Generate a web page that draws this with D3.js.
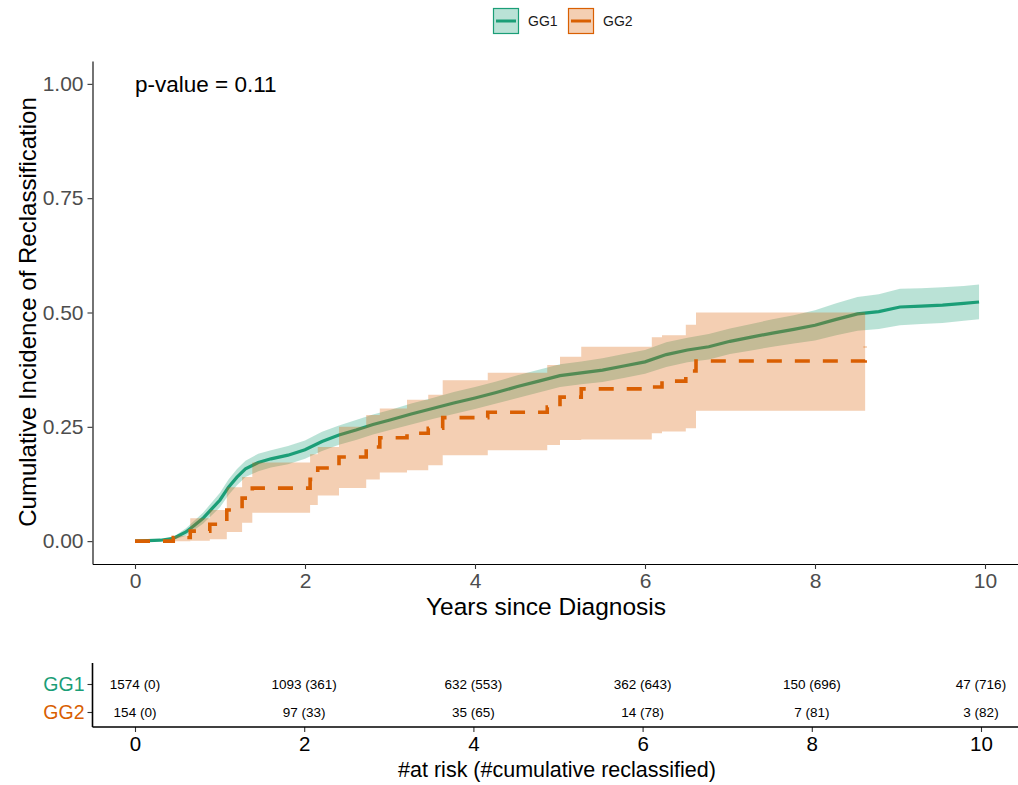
<!DOCTYPE html>
<html>
<head>
<meta charset="utf-8">
<script src="https://cdn.jsdelivr.net/npm/d3@7"></script>
<style>
  body { margin: 0; background: #fff; }
  text { font-family: "Liberation Sans", Arial, sans-serif; }
</style>
</head>
<body>
<div id="vis"></div>
<script>
// ---- data ----
var groups = ["GG1", "GG2"];
var colours = ["#1B9E77", "#D95F02"];

var gg1Time = [0, 0.3, 0.45, 0.6, 0.7, 0.8, 0.9, 1.0, 1.1, 1.2, 1.3, 1.45, 1.6, 1.8, 2.0, 2.2, 2.4, 2.6, 2.8, 3.0, 3.25, 3.5, 3.75, 4.0, 4.25, 4.5, 4.75, 5.0, 5.25, 5.5, 5.75, 6.0, 6.25, 6.5, 6.75, 7.0, 7.25, 7.5, 7.75, 8.0, 8.25, 8.5, 8.75, 9.0, 9.25, 9.5, 9.75, 9.93];
var gg1Est = [0, 0.002, 0.006, 0.02, 0.035, 0.05, 0.07, 0.09, 0.118, 0.14, 0.158, 0.172, 0.18, 0.188, 0.2, 0.218, 0.232, 0.243, 0.255, 0.265, 0.278, 0.29, 0.302, 0.313, 0.325, 0.338, 0.35, 0.362, 0.368, 0.374, 0.383, 0.392, 0.408, 0.418, 0.425, 0.437, 0.446, 0.455, 0.463, 0.472, 0.485, 0.497, 0.502, 0.512, 0.514, 0.516, 0.52, 0.523];
var gg1Lower = [0, 0.001, 0.003, 0.012, 0.025, 0.038, 0.056, 0.074, 0.101, 0.122, 0.14, 0.153, 0.161, 0.168, 0.18, 0.197, 0.211, 0.221, 0.233, 0.243, 0.255, 0.267, 0.278, 0.289, 0.301, 0.313, 0.325, 0.337, 0.343, 0.348, 0.357, 0.366, 0.381, 0.391, 0.397, 0.409, 0.417, 0.425, 0.432, 0.439, 0.45, 0.46, 0.464, 0.472, 0.475, 0.477, 0.482, 0.485];
var gg1Upper = [0, 0.003, 0.009, 0.028, 0.045, 0.062, 0.084, 0.106, 0.135, 0.158, 0.176, 0.191, 0.199, 0.208, 0.22, 0.239, 0.253, 0.265, 0.277, 0.287, 0.301, 0.313, 0.326, 0.337, 0.349, 0.363, 0.375, 0.387, 0.393, 0.4, 0.409, 0.418, 0.435, 0.445, 0.453, 0.465, 0.475, 0.485, 0.494, 0.505, 0.52, 0.534, 0.54, 0.552, 0.553, 0.555, 0.558, 0.561];

var gg2Time = [0, 0.45, 0.65, 0.88, 1.08, 1.26, 1.38, 2.06, 2.15, 2.4, 2.72, 2.88, 3.2, 3.45, 3.62, 4.15, 4.85, 5.0, 5.25, 6.08, 6.2, 6.48, 6.6, 8.59];
var gg2Est = [0, 0.008, 0.022, 0.037, 0.068, 0.094, 0.116, 0.135, 0.16, 0.184, 0.206, 0.226, 0.236, 0.247, 0.27, 0.282, 0.293, 0.315, 0.333, 0.337, 0.35, 0.372, 0.394, 0.425];
var gg2Lower = [0, 0, 0.001, 0.004, 0.02, 0.04, 0.062, 0.079, 0.1, 0.116, 0.135, 0.15, 0.155, 0.166, 0.188, 0.199, 0.21, 0.221, 0.222, 0.236, 0.24, 0.247, 0.285, 0.285];
var gg2Upper = [0, 0.012, 0.05, 0.068, 0.118, 0.14, 0.172, 0.19, 0.206, 0.25, 0.276, 0.29, 0.309, 0.32, 0.352, 0.368, 0.385, 0.403, 0.425, 0.446, 0.45, 0.473, 0.5, 0.5];

var xTicks = [0, 2, 4, 6, 8, 10];
var yTicks = [0, 0.25, 0.5, 0.75, 1];
var pValueLabel = "p-value = 0.11";

// risk table
var riskTimes = [0, 2, 4, 6, 8, 10];
var gg1AtRisk = [1574, 1093, 632, 362, 150, 47];
var gg1Cum = [0, 361, 553, 643, 696, 716];
var gg2AtRisk = [154, 97, 35, 14, 7, 3];
var gg2Cum = [0, 33, 65, 78, 81, 82];

// ---- layout ----
var width = 1018;
var height = 785;

var svg = d3.select('#vis')
  .append('svg')
  .attr('width', width)
  .attr('height', height)
  .style('background', '#fff');

var x = d3.scaleLinear().domain([-0.5, 10.5]).range([92.5, 1027.5]);
var y = d3.scaleLinear().domain([-0.05, 1.05]).range([564, 61]);

function zip(t, e, lo, hi) {
  return t.map(function(d, i) {
    return { t: d, est: e[i], lo: lo[i], hi: hi[i] };
  });
}
var series = [
  { name: "GG1", colour: colours[0], data: zip(gg1Time, gg1Est, gg1Lower, gg1Upper), curve: d3.curveLinear, dash: null },
  { name: "GG2", colour: colours[1], data: zip(gg2Time, gg2Est, gg2Lower, gg2Upper), curve: d3.curveStepAfter, dash: "15,13" }
];

var plot = svg.append('g');

series.forEach(function(s) {
  var area = d3.area()
    .curve(s.curve)
    .x(function(d) { return x(d.t); })
    .y0(function(d) { return y(d.lo); })
    .y1(function(d) { return y(d.hi); });
  var line = d3.line()
    .curve(s.curve)
    .x(function(d) { return x(d.t); })
    .y(function(d) { return y(d.est); });

  plot.append('path')
    .datum(s.data)
    .attr('d', area)
    .attr('fill', s.colour)
    .attr('fill-opacity', 0.3);

  plot.append('path')
    .datum(s.data)
    .attr('d', line)
    .attr('fill', 'none')
    .attr('stroke', s.colour)
    .attr('stroke-width', s.dash ? 3.6 : 3.2)
    .attr('stroke-dasharray', s.dash)
    .attr('stroke-linecap', 'butt');
});

// axes
var xAxis = d3.axisBottom(x).tickValues(xTicks).tickSize(5).tickSizeOuter(0).tickPadding(4);
var yAxis = d3.axisLeft(y).tickValues(yTicks).tickSize(5).tickSizeOuter(0).tickPadding(4)
  .tickFormat(d3.format('.2f'));

function styleAxis(g, fs, col) {
  g.select('.domain').attr('stroke', '#000').attr('stroke-width', 1.1);
  g.selectAll('.tick line').attr('stroke', '#333').attr('stroke-width', 1.1);
  g.selectAll('.tick text')
    .attr('fill', col)
    .style('font-size', fs + 'px')
    .style('font-family', '"Liberation Sans", Arial, sans-serif');
}

svg.append('g')
  .attr('transform', 'translate(0,564)')
  .call(xAxis)
  .call(styleAxis, 21, '#4D4D4D');

svg.append('g')
  .attr('transform', 'translate(92.5,0)')
  .call(yAxis)
  .call(styleAxis, 21, '#4D4D4D');

svg.append('text')
  .attr('x', 546)
  .attr('y', 615)
  .attr('text-anchor', 'middle')
  .style('font-size', '24.5px')
  .attr('fill', '#000')
  .text('Years since Diagnosis');

svg.append('text')
  .attr('transform', 'translate(36,312) rotate(-90)')
  .attr('text-anchor', 'middle')
  .style('font-size', '24px')
  .attr('fill', '#000')
  .text('Cumulative Incidence of Reclassification');

svg.append('text')
  .attr('x', x(0))
  .attr('y', 92)
  .style('font-size', '22.5px')
  .attr('fill', '#000')
  .text(pValueLabel);

// legend
var legend = svg.append('g');
var legX = [493, 568];
groups.forEach(function(g, i) {
  var lg = legend.append('g').attr('transform', 'translate(' + legX[i] + ',8)');
  lg.append('rect')
    .attr('x', 0.5).attr('y', 0.5)
    .attr('width', 25).attr('height', 25)
    .attr('fill', colours[i]).attr('fill-opacity', 0.3)
    .attr('stroke', colours[i]).attr('stroke-width', 1.2);
  lg.append('line')
    .attr('x1', 3).attr('x2', 23)
    .attr('y1', 13).attr('y2', 13)
    .attr('stroke', colours[i]).attr('stroke-width', 3);
  lg.append('text')
    .attr('x', 35).attr('y', 18)
    .style('font-size', '14px')
    .attr('fill', '#1a1a1a')
    .text(g);
});

// risk table
var xr = d3.scaleLinear().domain([0, 10]).range([135, 981]);
var yr = d3.scalePoint().domain(groups).range([684, 712]);

var riskRows = [
  { name: "GG1", atRisk: gg1AtRisk, cum: gg1Cum },
  { name: "GG2", atRisk: gg2AtRisk, cum: gg2Cum }
];

var table = svg.append('g');
riskRows.forEach(function(r) {
  table.selectAll('.cell-' + r.name)
    .data(riskTimes)
    .enter()
    .append('text')
    .attr('class', 'cell-' + r.name)
    .attr('x', function(d) { return xr(d); })
    .attr('y', yr(r.name))
    .attr('dy', '0.35em')
    .attr('text-anchor', 'middle')
    .style('font-size', '13.5px')
    .attr('fill', '#000')
    .text(function(d, i) { return r.atRisk[i] + ' (' + r.cum[i] + ')'; });
});

var xrAxis = d3.axisBottom(xr).tickValues(riskTimes).tickSize(5).tickSizeOuter(0).tickPadding(4);
var xrg = svg.append('g')
  .attr('transform', 'translate(0,727)')
  .call(xrAxis)
  .call(styleAxis, 20.5, '#000');
xrg.select('.domain').remove();
xrg.append('line')
  .attr('x1', 92.5).attr('x2', 1018)
  .attr('y1', 0).attr('y2', 0)
  .attr('stroke', '#000').attr('stroke-width', 1.6);

var yrAxis = d3.axisLeft(yr).tickSize(5).tickPadding(3);
var yrg = svg.append('g')
  .attr('transform', 'translate(92.5,0)')
  .call(yrAxis)
  .call(styleAxis, 19.5, '#000');
yrg.select('.domain').remove();
yrg.selectAll('.tick text')
  .attr('fill', function(d, i) { return colours[i]; });
yrg.append('line')
  .attr('x1', 0).attr('x2', 0)
  .attr('y1', 663).attr('y2', 727)
  .attr('stroke', '#000').attr('stroke-width', 1.6);

svg.append('text')
  .attr('x', 557)
  .attr('y', 777)
  .attr('text-anchor', 'middle')
  .style('font-size', '21.5px')
  .attr('fill', '#000')
  .text('#at risk (#cumulative reclassified)');
</script>
</body>
</html>
